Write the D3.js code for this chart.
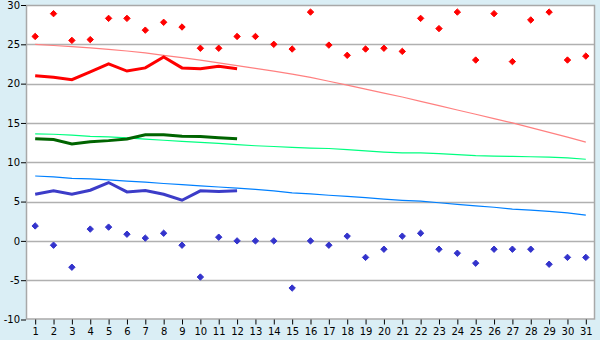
<!DOCTYPE html>
<html>
<head>
<meta charset="utf-8">
<script src="https://cdn.jsdelivr.net/npm/d3@7"></script>
<style>
  body { margin: 0; background: #daeef5; }
  svg { display: block; }
  .tick text { font-family: "DejaVu Sans", Verdana, sans-serif; font-size: 10px; fill: #000; }
</style>
</head>
<body>
<div id="vis"></div>
<script>
// days of the month
var days = d3.range(1, 32);

// record highs / lows (markers)
var recordHigh = [26.0, 28.9, 25.5, 25.6, 28.3, 28.3, 26.8, 27.8, 27.2, 24.5, 24.5, 26.0, 26.0, 25.0, 24.4, 29.1,
                  24.9, 23.6, 24.4, 24.5, 24.1, 28.3, 27.0, 29.1, 23.0, 28.9, 22.8, 28.1, 29.1, 23.0, 23.5];
var recordLow = [1.9, -0.55, -3.35, 1.5, 1.75, 0.85, 0.35, 0.97, -0.55, -4.6, 0.47, 0.0, 0.0, 0.0, -6.0, 0.0,
                 -0.55, 0.6, -2.1, -1.06, 0.6, 0.97, -1.06, -1.57, -2.84, -1.06, -1.06, -1.06, -2.97, -2.1, -2.1];

// observed values, first 12 days
var obsHigh = [21.0, 20.8, 20.5, 21.5, 22.5, 21.6, 22.0, 23.4, 22.0, 21.9, 22.2, 21.9];
var obsMean = [13.0, 12.88, 12.33, 12.6, 12.75, 12.97, 13.5, 13.5, 13.3, 13.27, 13.13, 13.0];
var obsLow  = [5.93, 6.36, 5.93, 6.44, 7.42, 6.23, 6.4, 5.93, 5.17, 6.36, 6.27, 6.36];

// normals
var normHigh = [25.0, 24.85, 24.7, 24.55, 24.35, 24.15, 23.9, 23.6, 23.3, 23.0, 22.65, 22.3, 21.95, 21.6, 21.2, 20.8,
                20.3, 19.8, 19.3, 18.8, 18.3, 17.75, 17.2, 16.65, 16.1, 15.55, 15.0, 14.4, 13.8, 13.2, 12.55];
var normMean = [13.6, 13.56, 13.45, 13.3, 13.22, 13.1, 12.95, 12.8, 12.65, 12.52, 12.4, 12.25, 12.1, 12.0, 11.9, 11.8,
                11.75, 11.6, 11.45, 11.3, 11.2, 11.18, 11.1, 10.98, 10.85, 10.78, 10.75, 10.7, 10.64, 10.55, 10.38];
var normLow  = [8.25, 8.13, 7.95, 7.88, 7.75, 7.6, 7.46, 7.3, 7.15, 7.0, 6.85, 6.7, 6.55, 6.35, 6.1, 5.97,
                5.8, 5.65, 5.5, 5.3, 5.15, 5.05, 4.85, 4.65, 4.45, 4.28, 4.05, 3.9, 3.75, 3.55, 3.27];

var yTicks = [-10, -5, 0, 5, 10, 15, 20, 25, 30];

var width = 600, height = 340;
var plotLeft = 26, plotRight = 595, plotTop = 5, plotBottom = 319.5;

var svg = d3.select("#vis").append("svg")
    .attr("width", width)
    .attr("height", height);

var x = d3.scalePoint()
    .domain(days)
    .range([plotLeft, plotRight])
    .padding(0.5);

var y = d3.scaleLinear()
    .domain([-10, 30])
    .range([plotBottom, plotTop]);

// plot area
svg.append("rect")
    .attr("x", plotLeft)
    .attr("y", plotTop)
    .attr("width", plotRight - plotLeft)
    .attr("height", plotBottom - plotTop)
    .attr("fill", "#fff");

// gridlines
svg.append("g").selectAll("line")
    .data(yTicks.slice(1, -1))
    .enter().append("line")
    .attr("x1", plotLeft)
    .attr("x2", plotRight)
    .attr("y1", function(d) { return Math.round(y(d)) + 0.5; })
    .attr("y2", function(d) { return Math.round(y(d)) + 0.5; })
    .attr("stroke", "#b0b0b0")
    .attr("stroke-width", 1.5);

// frame
svg.append("rect")
    .attr("x", plotLeft + 0.5)
    .attr("y", plotTop + 0.5)
    .attr("width", plotRight - plotLeft - 1)
    .attr("height", plotBottom - plotTop - 1)
    .attr("fill", "none")
    .attr("stroke", "#a8a8a8")
    .attr("stroke-width", 1.5);

// axes
var xAxis = svg.append("g")
    .attr("transform", "translate(0," + plotBottom + ")")
    .call(d3.axisBottom(x).tickSize(5).tickPadding(3));
xAxis.select(".domain").remove();
xAxis.selectAll(".tick line").attr("stroke", "#000");

var yAxis = svg.append("g")
    .attr("transform", "translate(" + plotLeft + ",0)")
    .call(d3.axisLeft(y).tickValues(yTicks).tickSize(5).tickPadding(1)
      .tickFormat(function(d) { return d < 0 ? "-" + Math.abs(d) : d; }));
yAxis.select(".domain").remove();
yAxis.selectAll(".tick line").attr("stroke", "#000");

function drawLine(values, color, w) {
  var line = d3.line()
      .x(function(d, i) { return x(days[i]); })
      .y(function(d) { return y(d); });
  svg.append("path")
      .datum(values)
      .attr("d", line)
      .attr("fill", "none")
      .attr("stroke", color)
      .attr("stroke-width", w);
}

// normals (thin)
drawLine(normHigh, "#ff8080", 1.2);
drawLine(normMean, "#00ff80", 1.2);
drawLine(normLow, "#0080ff", 1.2);

// observed (thick)
drawLine(obsHigh, "#ff0000", 3);
drawLine(obsMean, "#006400", 3);
drawLine(obsLow, "#3c3cc8", 3);

// record markers
var marker = "M0,-3.2L3.2,0L0,3.2L-3.2,0Z";
function drawMarkers(values, color) {
  svg.append("g").selectAll("path")
      .data(values)
      .enter().append("path")
      .attr("d", marker)
      .attr("transform", function(d, i) { return "translate(" + x(days[i]) + "," + y(d) + ")"; })
      .attr("fill", color)
      .attr("stroke", color)
      .attr("stroke-width", 1);
}
drawMarkers(recordHigh, "#ff0000");
drawMarkers(recordLow, "#3333cc");
</script>
</body>
</html>
